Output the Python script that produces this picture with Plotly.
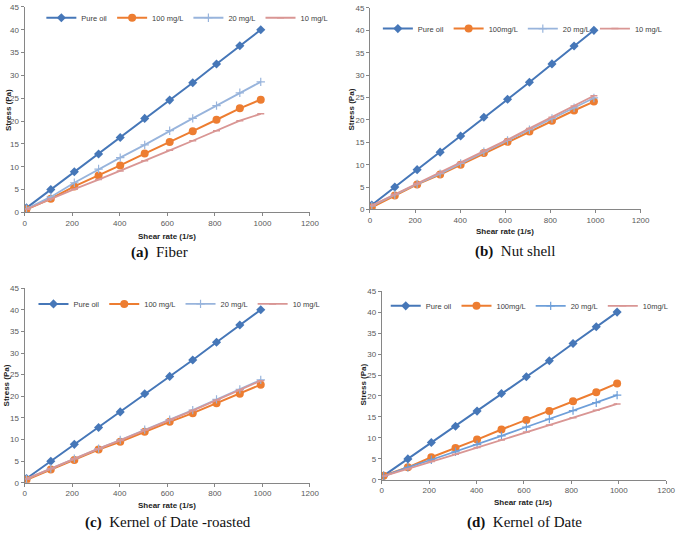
import plotly.graph_objects as go

W, H = 685, 537

shear_rate = [8, 110, 209, 311, 402, 505, 610, 707, 807, 905, 993]

pure_oil = [1.0, 5.0, 8.9, 12.8, 16.4, 20.6, 24.6, 28.4, 32.5, 36.5, 40.0]

# (a) Fiber
fiber_100 = [0.7, 3.0, 5.7, 8.1, 10.3, 12.9, 15.4, 17.8, 20.3, 22.8, 24.7]
fiber_20 = [0.8, 3.4, 6.5, 9.5, 12.0, 14.8, 17.9, 20.6, 23.4, 26.2, 28.6]
fiber_10 = [0.7, 3.0, 5.1, 7.2, 9.1, 11.3, 13.6, 15.7, 17.9, 20.1, 21.6]

# (b) Nut shell
nut_100 = [0.5, 3.1, 5.6, 7.8, 10.0, 12.6, 15.1, 17.4, 19.8, 22.1, 24.1]
nut_20 = [0.8, 3.3, 5.7, 8.0, 10.3, 12.9, 15.4, 17.8, 20.3, 22.7, 24.9]
nut_10 = [0.9, 3.4, 5.8, 8.2, 10.5, 13.1, 15.6, 18.1, 20.6, 23.1, 25.4]

# (c) Kernel of Date - roasted
kdr_100 = [0.7, 3.1, 5.3, 7.7, 9.5, 11.8, 14.1, 16.1, 18.4, 20.6, 22.7]
kdr_20 = [0.9, 3.3, 5.6, 7.9, 9.9, 12.3, 14.6, 16.8, 19.3, 21.6, 23.8]
kdr_10 = [0.9, 3.3, 5.6, 7.9, 9.8, 12.2, 14.5, 16.7, 19.1, 21.4, 23.6]

# (d) Kernel of Date
kd_100 = [1.0, 3.0, 5.4, 7.6, 9.6, 12.0, 14.3, 16.4, 18.75, 20.9, 23.0]
kd_20 = [0.9, 3.0, 4.8, 6.7, 8.4, 10.5, 12.6, 14.5, 16.5, 18.4, 20.2]
kd_10 = [0.9, 2.6, 4.4, 6.1, 7.7, 9.5, 11.4, 13.1, 14.8, 16.6, 18.1]

x_ticks = [0, 200, 400, 600, 800, 1000, 1200]
y_ticks = [0, 5, 10, 15, 20, 25, 30, 35, 40, 45]

panels = [
    dict(name="(a)", title="Fiber", labels=["Pure oil", "100 mg/L", "20 mg/L", "10 mg/L"],
         data=[pure_oil, fiber_100, fiber_20, fiber_10]),
    dict(name="(b)", title="Nut shell", labels=["Pure oil", "100mg/L", "20 mg/L", "10 mg/L"],
         data=[pure_oil, nut_100, nut_20, nut_10]),
    dict(name="(c)", title="Kernel of Date -roasted", labels=["Pure oil", "100 mg/L", "20 mg/L", "10 mg/L"],
         data=[pure_oil, kdr_100, kdr_20, kdr_10]),
    dict(name="(d)", title="Kernel of Date", labels=["Pure oil", "100mg/L", "20 mg/L", "10mg/L"],
         data=[pure_oil, kd_100, kd_20, kd_10]),
]

# pixel boxes of plot areas: (x0, x1, ytop, ybottom)
boxes = [(23, 313, 3, 212), (374, 649, 4, 209), (23, 313, 289, 487), (386, 675, 292, 484)]
legend_pos = [(40, 14), (382, 25), (32, 305), (390, 307)]
ytitle_pos = [(6, 108), (355, 107), (5, 388), (367, 387)]
xtitle_pos = [(168, 236), (511, 231), (168, 510), (530, 507)]
caption_pos = [(160, 253), (521, 252), (169, 527), (531, 527)]

colors = ["#4677B8", "#ED7D31", "#98B4DC", "#D99694"]
colors_d = ["#4677B8", "#ED7D31", "#6E9FD9", "#D99694"]
markers = [
    dict(symbol="diamond", size=7),
    dict(symbol="circle", size=8),
    dict(symbol="cross-thin", size=6, line=dict(width=1.2)),
    dict(symbol="line-ew", size=5, line=dict(width=1.5)),
]

fig = go.Figure()

font_tick = dict(family="Liberation Sans, Arial", size=8, color="#595959")

for i, p in enumerate(panels):
    xa = "x" if i == 0 else f"x{i+1}"
    ya = "y" if i == 0 else f"y{i+1}"
    lg = "legend" if i == 0 else f"legend{i+1}"
    cols = colors_d if i == 3 else colors
    for j, (lab, vals) in enumerate(zip(p["labels"], p["data"])):
        mk = dict(markers[j])
        mk["color"] = cols[j]
        if "line" in mk:
            mk["line"] = dict(mk["line"], color=cols[j])
        fig.add_trace(go.Scatter(
            x=shear_rate, y=vals, name=lab, mode="lines+markers",
            line=dict(color=cols[j], width=2 if j < 2 else 1.8),
            marker=mk, xaxis=xa, yaxis=ya, legend=lg,
        ))
    x0, x1, yt, yb = boxes[i]
    xk = "xaxis" if i == 0 else f"xaxis{i+1}"
    yk = "yaxis" if i == 0 else f"yaxis{i+1}"
    fig.layout[xk] = dict(domain=[x0 / W, x1 / W], anchor=ya, range=[0, 1200],
                          tickvals=x_ticks, ticks="outside", ticklen=3, tickcolor="#868686",
                          showline=True, linecolor="#868686", linewidth=1,
                          showgrid=False, zeroline=False, tickfont=font_tick)
    fig.layout[yk] = dict(domain=[1 - yb / H, 1 - yt / H], anchor=xa, range=[0, 45],
                          tickvals=y_ticks, ticks="outside", ticklen=3, tickcolor="#868686",
                          showline=True, linecolor="#868686", linewidth=1,
                          showgrid=False, zeroline=False, tickfont=font_tick)
    lx, ly = legend_pos[i]
    fig.layout[lg] = dict(x=lx / W, y=1 - ly / H, xanchor="left", yanchor="middle",
                          orientation="h", font=dict(family="Liberation Sans, Arial", size=7.5, color="#404040"),
                          bgcolor="rgba(0,0,0,0)", itemwidth=30, tracegroupgap=0)
    tx, ty = ytitle_pos[i]
    fig.add_annotation(x=tx / W, y=1 - ty / H, xref="paper", yref="paper",
                       xanchor="center", yanchor="middle",
                       text="<b>Stress (Pa)</b>", textangle=-90, showarrow=False,
                       font=dict(family="Liberation Sans, Arial", size=8, color="#222"))
    tx, ty = xtitle_pos[i]
    fig.add_annotation(x=tx / W, y=1 - ty / H, xref="paper", yref="paper",
                       xanchor="center", yanchor="middle",
                       text="<b>Shear rate (1/s)</b>", showarrow=False,
                       font=dict(family="Liberation Sans, Arial", size=8, color="#222"))
    tx, ty = caption_pos[i]
    fig.add_annotation(x=tx / W, y=1 - ty / H, xref="paper", yref="paper",
                       xanchor="center", yanchor="middle",
                       text=f"<b>{p['name']}</b>  {p['title']}", showarrow=False,
                       font=dict(family="Liberation Serif, Times New Roman", size=15, color="#111"))

fig.update_layout(width=W, height=H, margin=dict(l=0, r=0, t=0, b=0),
                  paper_bgcolor="white", plot_bgcolor="white", showlegend=True)

fig.write_html("out.html", config={"displayModeBar": False},
               post_script="document.body.style.margin='0';")
